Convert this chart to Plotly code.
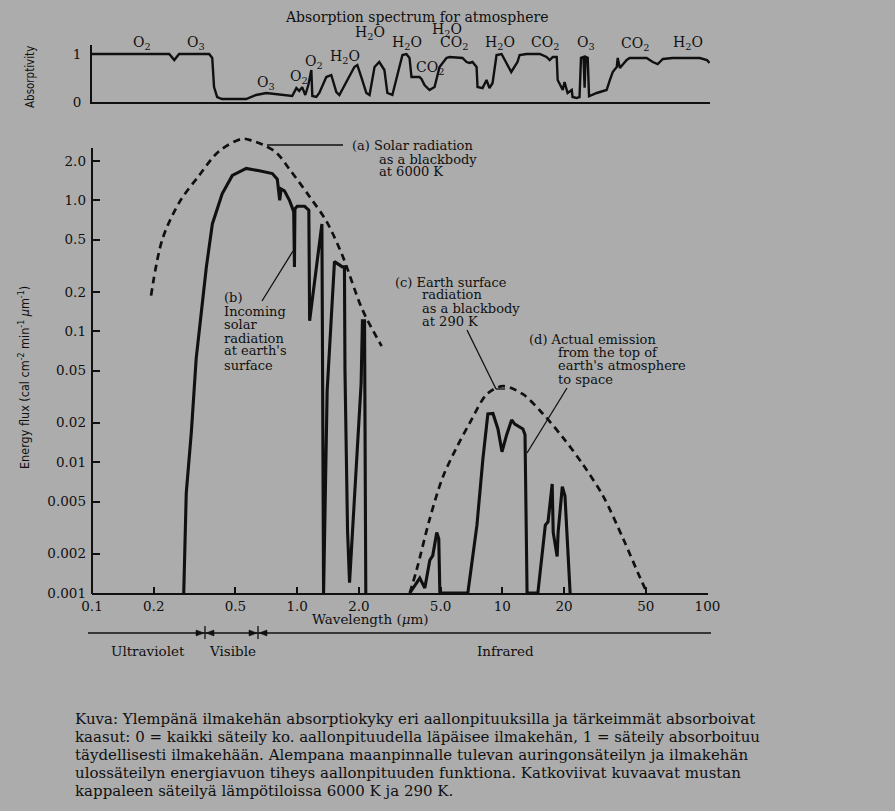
import plotly.graph_objects as go
import math

# ---------------- data ----------------
# (a) solar radiation as a blackbody at 6000 K (dashed)
solar_bb_wl = [0.194, 0.22, 0.266, 0.333, 0.417, 0.541, 0.605, 0.677, 0.792, 0.917, 1.148, 1.39, 1.66, 2.08, 2.58]
solar_bb_flux = [0.187, 0.50, 0.96, 1.55, 2.38, 2.95, 2.85, 2.67, 2.31, 1.73, 1.07, 0.69, 0.38, 0.146, 0.077]

# (b) incoming solar radiation at earth's surface (solid)
solar_sfc_wl = [0.28, 0.288, 0.305, 0.322, 0.341, 0.361, 0.386, 0.431, 0.483, 0.565, 0.654, 0.757,
                0.80, 0.815, 0.822, 0.835, 0.867, 0.917, 0.962, 0.97, 0.975, 1.0, 1.087, 1.14,
                1.15, 1.32, 1.345, 1.40, 1.45, 1.52, 1.66, 1.70, 1.71, 1.76, 1.80, 2.05, 2.08,
                2.13, 2.16]
solar_sfc_flux = [0.001, 0.0058, 0.017, 0.062, 0.139, 0.31, 0.66, 1.12, 1.55, 1.75, 1.68, 1.60,
                  1.45, 1.05, 1.0, 1.22, 1.18, 1.0, 0.82, 0.31, 0.86, 0.90, 0.90, 0.84,
                  0.12, 0.66, 0.001, 0.035, 0.10, 0.34, 0.31, 0.31, 0.05, 0.003, 0.0012, 0.04, 0.12,
                  0.12, 0.001]

# (c) earth surface radiation as a blackbody at 290 K (dashed)
earth_bb_wl = [3.54, 3.83, 4.43, 5.13, 6.0, 6.95, 8.41, 10.07, 12.6, 15.8, 19.8, 24.8, 31.0, 38.8, 47.0, 50.8]
earth_bb_flux = [0.001, 0.00152, 0.0037, 0.0077, 0.013, 0.020, 0.033, 0.038, 0.033, 0.0233, 0.0153,
                 0.0095, 0.0055, 0.0026, 0.0013, 0.001]

# (d) actual emission from the top of earth's atmosphere to space (solid)
earth_toa_wl = [3.54, 3.96, 4.19, 4.43, 4.58, 4.79, 4.90, 4.96, 6.79, 7.52, 8.04, 8.5, 9.0, 9.52,
                9.96, 10.5, 11.1, 11.5, 12.6, 12.9, 13.2, 14.9, 16.2, 16.7, 17.5, 17.7, 18.5, 18.7,
                19.6, 20.2, 21.4]
earth_toa_flux = [0.001, 0.0013, 0.00109, 0.00178, 0.00193, 0.0029, 0.0026, 0.001, 0.001, 0.0033,
                  0.0106, 0.0233, 0.0235, 0.0179, 0.012, 0.0162, 0.021, 0.0195, 0.0179, 0.0162,
                  0.001, 0.001, 0.0033, 0.0035, 0.0068, 0.0029, 0.0019, 0.0029, 0.0065, 0.0055, 0.001]

# absorption spectrum for atmosphere (top panel)
absorb_wl = [0.1, 0.238, 0.252, 0.266, 0.373, 0.386, 0.394, 0.408, 0.431, 0.565, 0.632, 0.708,
             0.948, 0.993, 1.026, 1.06, 1.098, 1.136, 1.175, 1.188, 1.242, 1.285, 1.39, 1.47,
             1.556, 1.61, 1.905, 1.97, 2.06, 2.18, 2.26, 2.39, 2.52, 2.67, 2.76, 2.92, 3.16,
             3.27, 3.42, 3.54, 3.62, 3.96, 4.05, 4.19, 4.43, 4.69, 4.96, 5.36, 5.55, 6.42, 6.72,
             6.95, 7.18, 7.52, 7.60, 8.04, 8.41, 8.69, 9.0, 9.2, 9.41, 9.96, 10.5, 11.1, 11.9,
             12.2, 13.2, 15.3, 16.5, 17.1, 17.7, 18.5, 18.7, 19.8, 20.2, 20.9, 21.9, 22.1, 23.1,
             23.9, 24.3, 25.0, 25.3, 25.6, 26.2, 26.6, 29.0, 32.4, 33.6, 34.7, 36.3, 36.7, 37.6,
             40.6, 42.0, 50.8, 54.4, 57.5, 61.0, 68.1, 92.3, 100.0, 103.0]
absorb_val = [1.0, 1.0, 0.875, 1.0, 1.0, 0.917, 0.312, 0.104, 0.0625, 0.0625, 0.146, 0.1875,
              0.125, 0.29, 0.23, 0.31, 0.146, 0.354, 0.667, 0.125, 0.104, 0.1875, 0.52, 0.5625,
              0.208, 0.146, 0.729, 0.77, 0.52, 0.1875, 0.146, 0.729, 0.833, 0.667, 0.1875, 0.146, 0.729,
              0.979, 1.0, 0.917, 0.52, 0.52, 0.479, 0.354, 0.25, 0.3125, 0.729, 0.917, 0.9375, 0.917, 0.833,
              0.8125, 0.833, 0.729, 0.3125, 0.29, 0.458, 0.29, 0.396, 0.729, 0.979, 1.0, 0.8125, 0.625, 0.833,
              0.979, 1.0, 1.0, 0.9375, 0.875, 0.9375, 0.9375, 0.458, 0.25, 0.417, 0.1875, 0.25, 0.104, 0.083,
              0.104, 0.92, 0.94, 0.30, 0.94, 0.92, 0.12, 0.1875, 0.25, 0.458, 0.625, 0.729, 0.917, 0.708,
              0.875, 0.917, 0.917, 0.833, 0.79, 0.896, 0.917, 0.917, 0.875, 0.8125]

x_tick_vals = [0.1, 0.2, 0.5, 1, 2, 5, 10, 20, 50, 100]
x_tick_text = ["0.1", "0.2", "0.5", "1.0", "2.0", "5.0", "10", "20", "50", "100"]
y_tick_vals = [0.001, 0.002, 0.005, 0.01, 0.02, 0.05, 0.1, 0.2, 0.5, 1, 2]
y_tick_text = ["0.001", "0.002", "0.005", "0.01", "0.02", "0.05", "0.1", "0.2", "0.5", "1.0", "2.0"]
abs_tick_vals = [0, 1]
abs_tick_text = ["0", "1"]

gas_names = ["O<sub>2</sub>", "O<sub>3</sub>", "O<sub>3</sub>", "O<sub>2</sub>", "O<sub>2</sub>",
             "H<sub>2</sub>O", "H<sub>2</sub>O", "H<sub>2</sub>O", "CO<sub>2</sub>", "H<sub>2</sub>O",
             "CO<sub>2</sub>", "H<sub>2</sub>O", "CO<sub>2</sub>", "O<sub>3</sub>", "CO<sub>2</sub>",
             "H<sub>2</sub>O"]

caption_lines = [
    "Kuva: Ylempänä ilmakehän absorptiokyky eri aallonpituuksilla ja tärkeimmät absorboivat",
    "kaasut: 0 = kaikki säteily ko. aallonpituudella läpäisee ilmakehän, 1 = säteily absorboituu",
    "täydellisesti ilmakehään. Alempana maanpinnalle tulevan auringonsäteilyn ja ilmakehän",
    "ulossäteilyn energiavuon tiheys aallonpituuden funktiona. Katkoviivat kuvaavat mustan",
    "kappaleen säteilyä lämpötiloissa 6000 K ja 290 K.",
]

# ---------------- layout helpers ----------------
W, H = 895, 811
SERIF = "DejaVu Serif, Liberation Serif, serif"
NARROW = "Liberation Sans Narrow, DejaVu Sans Condensed, Liberation Sans, sans-serif"
BG = "#acacac"
INK = "#101010"


def fx(p):
    return p / W


def fy(p):
    return 1 - p / H


def note(text, x, y, size=13, xanchor="left", family=SERIF, angle=0):
    return dict(text=text, x=fx(x), y=fy(y), xref="paper", yref="paper", showarrow=False,
                xanchor=xanchor, yanchor="middle", textangle=angle,
                font=dict(family=family, size=size, color=INK))


def seg(x0, y0, x1, y1, w=1.3):
    return dict(type="line", xref="paper", yref="paper", x0=fx(x0), y0=fy(y0), x1=fx(x1), y1=fy(y1),
                line=dict(color=INK, width=w))


def tri(pts):
    path = "M " + " L ".join(f"{fx(a):.5f},{fy(b):.5f}" for a, b in pts) + " Z"
    return dict(type="path", xref="paper", yref="paper", path=path, fillcolor=INK,
                line=dict(color=INK, width=0.5))


fig = go.Figure()

dash_style = dict(color=INK, width=2.7, dash="7px,5px", shape="spline", smoothing=0.9)
solid_style = dict(color=INK, width=3.1)

fig.add_trace(go.Scatter(x=solar_bb_wl, y=solar_bb_flux, mode="lines", line=dash_style,
                         xaxis="x", yaxis="y", hoverinfo="skip"))
fig.add_trace(go.Scatter(x=earth_bb_wl, y=earth_bb_flux, mode="lines", line=dash_style,
                         xaxis="x", yaxis="y", hoverinfo="skip"))
fig.add_trace(go.Scatter(x=solar_sfc_wl, y=solar_sfc_flux, mode="lines", line=solid_style,
                         xaxis="x", yaxis="y", hoverinfo="skip"))
fig.add_trace(go.Scatter(x=earth_toa_wl, y=earth_toa_flux, mode="lines", line=solid_style,
                         xaxis="x", yaxis="y", hoverinfo="skip"))
fig.add_trace(go.Scatter(x=absorb_wl, y=absorb_val, mode="lines", line=dict(color=INK, width=2.4),
                         xaxis="x2", yaxis="y2", hoverinfo="skip"))

tickfont = dict(family=SERIF, size=13.5, color=INK)

fig.update_layout(
    width=W, height=H, margin=dict(l=0, r=0, t=0, b=0, pad=0, autoexpand=False),
    paper_bgcolor=BG, plot_bgcolor=BG, showlegend=False,
    xaxis=dict(type="log", range=[-1, 2], domain=[fx(92), fx(707.5)], anchor="y",
               tickvals=x_tick_vals, ticktext=x_tick_text, ticks="inside", ticklen=6,
               tickwidth=1.5, tickcolor=INK, showline=True, linewidth=2, linecolor=INK,
               showgrid=False, zeroline=False, tickfont=tickfont, automargin=False),
    yaxis=dict(type="log", range=[-3, 0.537], domain=[fy(593), fy(130)], anchor="x",
               tickvals=y_tick_vals, ticktext=y_tick_text, ticks="inside", ticklen=8,
               tickwidth=1.5, tickcolor=INK, showline=False, showgrid=False, zeroline=False,
               tickfont=tickfont, ticklabelstandoff=5, automargin=False),
    xaxis2=dict(type="log", range=[-1, math.log10(103.5)], domain=[fx(92), fx(710)], anchor="y2",
                showticklabels=False, ticks="", showline=True, linewidth=2, linecolor=INK,
                showgrid=False, zeroline=False, automargin=False),
    yaxis2=dict(range=[0, 1.1875], domain=[fy(102), fy(45)], anchor="x2",
                tickvals=abs_tick_vals, ticktext=abs_tick_text, ticks="", showline=True,
                linewidth=2, linecolor=INK, showgrid=False, zeroline=False, tickfont=tickfont,
                ticklabelstandoff=6, automargin=False),
)

shapes = [
    seg(92, 148, 92, 594, w=2),                       # flux axis line
    seg(267, 145, 343, 145),                          # (a) leader
    seg(262, 301, 293, 251),                          # (b) leader
    seg(467, 330, 496, 389), seg(496, 389, 505, 389),  # (c) leader
    seg(567, 388, 527, 453),                          # (d) leader
    seg(88, 633, 711, 633, w=1.3),                    # spectral band line
    seg(205, 626, 205, 639, w=1.3), seg(258, 626, 258, 639, w=1.3),
    tri([(204, 633), (196, 630), (196, 636)]), tri([(206, 633), (214, 630), (214, 636)]),
    tri([(257, 633), (249, 630), (249, 636)]), tri([(259, 633), (267, 630), (267, 636)]),
]

gas_pos = [(142, 43), (196, 43), (266, 83), (299, 77), (314, 62), (345, 57), (370, 33), (407, 43),
           (430, 68), (447, 30), (454, 43), (500, 43), (545, 43), (586, 43), (635, 44), (688, 43)]

ann = [note("Absorption spectrum for atmosphere", 417, 17, size=14, xanchor="center")]
for name, (gx, gy) in zip(gas_names, gas_pos):
    ann.append(note(name, gx, gy, size=14, xanchor="center"))

ann += [
    note("Absorptivity", 30, 77, size=11.5, xanchor="center", family=NARROW, angle=-90),
    note("Energy flux (cal cm<sup>-2</sup> min<sup>-1</sup> <i>μ</i>m<sup>-1</sup>)", 24, 378,
         size=12.5, xanchor="center", family=NARROW, angle=-90),
    note("Wavelength (<i>μ</i>m)", 370, 619, size=13.5, xanchor="center"),
    note("Ultraviolet", 148, 651, size=13.5, xanchor="center"),
    note("Visible", 232, 651, size=13.5, xanchor="center"),
    note("Infrared", 505, 651, size=13.5, xanchor="center"),
]

label_lines = [
    ("(a) Solar radiation", 350, 145), ("as a blackbody", 377, 159), ("at 6000 K", 377, 172),
    ("(b)", 222, 298), ("Incoming", 222, 311), ("solar", 222, 324), ("radiation", 222, 338),
    ("at earth's", 222, 351), ("surface", 222, 365),
    ("(c) Earth surface", 393, 282), ("radiation", 420, 295), ("as a blackbody", 420, 308),
    ("at 290 K", 420, 321),
    ("(d) Actual emission", 527, 339), ("from the top of", 556, 352),
    ("earth's atmosphere", 556, 366), ("to space", 556, 379),
]
for t, lx, ly in label_lines:
    ann.append(note(t, lx, ly, size=13))

for i, line in enumerate(caption_lines):
    ann.append(note(line, 73, 719 + 18 * i, size=15, family=SERIF))

fig.update_layout(shapes=shapes, annotations=ann)

fig.write_html("out.html", config={"displayModeBar": False},
               post_script="document.body.style.margin='0';document.body.style.overflow='hidden';"
                           "document.documentElement.style.overflow='hidden';")
